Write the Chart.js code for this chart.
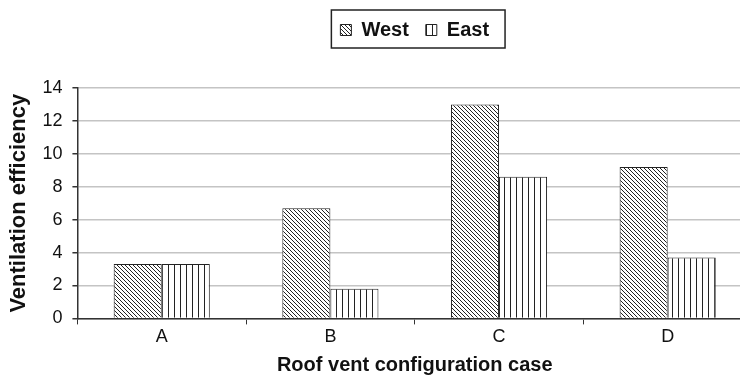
<!DOCTYPE html>
<html>
<head>
<meta charset="utf-8">
<script src="https://cdn.jsdelivr.net/npm/chart.js@4.4.0/dist/chart.umd.min.js"></script>
<style>
    html, body { margin: 0; padding: 0; background: #fff; overflow: hidden; }
    #wrap { width: 752px; height: 378px; }
</style>
</head>
<body>
<div id="wrap"><canvas id="vent_chart" width="752" height="378"></canvas></div>
<script>
// data
const categories = ['A', 'B', 'C', 'D'];
const westValues = [3.3, 6.7, 13.0, 9.2];
const eastValues = [3.3, 1.8, 8.6, 3.7];
const yTicks = [0, 2, 4, 6, 8, 10, 12, 14];

// hatch patterns for the bars
function diagonalPattern()
{
    let c = document.createElement('canvas');
    c.width = 4; c.height = 4;
    let g = c.getContext('2d');
    g.fillStyle = '#fff';
    g.fillRect(0, 0, 4, 4);
    g.strokeStyle = '#222';
    g.lineWidth = 1;
    g.beginPath();
    g.moveTo(-1, -1); g.lineTo(5, 5);
    g.moveTo(-1, 3); g.lineTo(1, 5);
    g.moveTo(3, -1); g.lineTo(5, 1);
    g.stroke();
    return g.createPattern(c, 'repeat');
}

function verticalPattern()
{
    let c = document.createElement('canvas');
    c.width = 6; c.height = 2;
    let g = c.getContext('2d');
    g.fillStyle = '#fff';
    g.fillRect(0, 0, 6, 2);
    g.fillStyle = '#222';
    g.fillRect(0, 0, 1, 2);
    return g.createPattern(c, 'repeat');
}

const font = 'Liberation Sans, Arial, sans-serif';

// legend: extra room below it, centred over the plot, framed
const legendBox = {
    id: 'legendBox',
    beforeInit(chart)
    {
        const fit = chart.legend.fit;
        chart.legend.fit = function()
        {
            fit.bind(chart.legend)();
            this.height += 38;
        };
    },
    afterLayout(chart)
    {
        let l = chart.legend;
        l.left = chart.chartArea.left;
        l.right = chart.chartArea.right;
        l.width = l.right - l.left;
    },
    afterDraw(chart)
    {
        let boxes = chart.legend.legendHitBoxes;
        if (!boxes || !boxes.length) return;
        let first = boxes[0];
        let last = boxes[boxes.length - 1];
        let left = first.left - 9;
        let right = last.left + last.width + 16;
        let top = first.top - 10;
        let bottom = first.top + first.height + 8;
        let ctx = chart.ctx;
        ctx.save();
        ctx.strokeStyle = '#222';
        ctx.lineWidth = 1.5;
        ctx.strokeRect(left, top, right - left, bottom - top);
        ctx.restore();
    }
};

new Chart(document.getElementById('vent_chart'), {
    type: 'bar',
    data: {
        labels: categories,
        datasets: [{
            label: 'West',
            data: westValues,
            backgroundColor: diagonalPattern(),
            borderColor: '#222',
            borderWidth: 1,
            barPercentage: 1,
            categoryPercentage: 0.57
        },
        {
            label: 'East',
            data: eastValues,
            backgroundColor: verticalPattern(),
            borderColor: '#222',
            borderWidth: 1,
            barPercentage: 1,
            categoryPercentage: 0.57
        }]
    },
    options: {
        responsive: false,
        animation: false,
        layout: { padding: { left: 6, right: 0, top: 3, bottom: 0 } },
        plugins: {
            tooltip: { enabled: false },
            legend: {
                position: 'top',
                labels: {
                    boxWidth: 11,
                    boxHeight: 11,
                    padding: 17,
                    color: '#111',
                    font: { family: font, size: 20, weight: 'bold' }
                }
            }
        },
        scales: {
            x: {
                grid: {
                    offset: true,
                    drawOnChartArea: false,
                    tickLength: 6,
                    color: '#333',
                    lineWidth: 1
                },
                border: { color: '#333', width: 1.5 },
                ticks: { color: '#111', font: { family: font, size: 18 }, padding: 2 },
                title: {
                    display: true,
                    text: 'Roof vent configuration case',
                    color: '#111',
                    font: { family: font, size: 20, weight: 'bold' },
                    padding: { top: 3, bottom: 1 }
                }
            },
            y: {
                min: 0,
                max: 14,
                afterBuildTicks: (axis) => { axis.ticks = yTicks.map(v => ({ value: v })); },
                grid: {
                    color: '#c4c4c4',
                    lineWidth: 1.5,
                    tickColor: '#333',
                    tickLength: 5
                },
                border: { color: '#333', width: 1.5 },
                ticks: { color: '#111', font: { family: font, size: 18 }, padding: 10 },
                title: {
                    display: true,
                    text: 'Ventilation efficiency',
                    color: '#111',
                    font: { family: font, size: 22, weight: 'bold' },
                    padding: { top: 0, bottom: 0 }
                }
            }
        }
    },
    plugins: [legendBox]
});
</script>
</body>
</html>
